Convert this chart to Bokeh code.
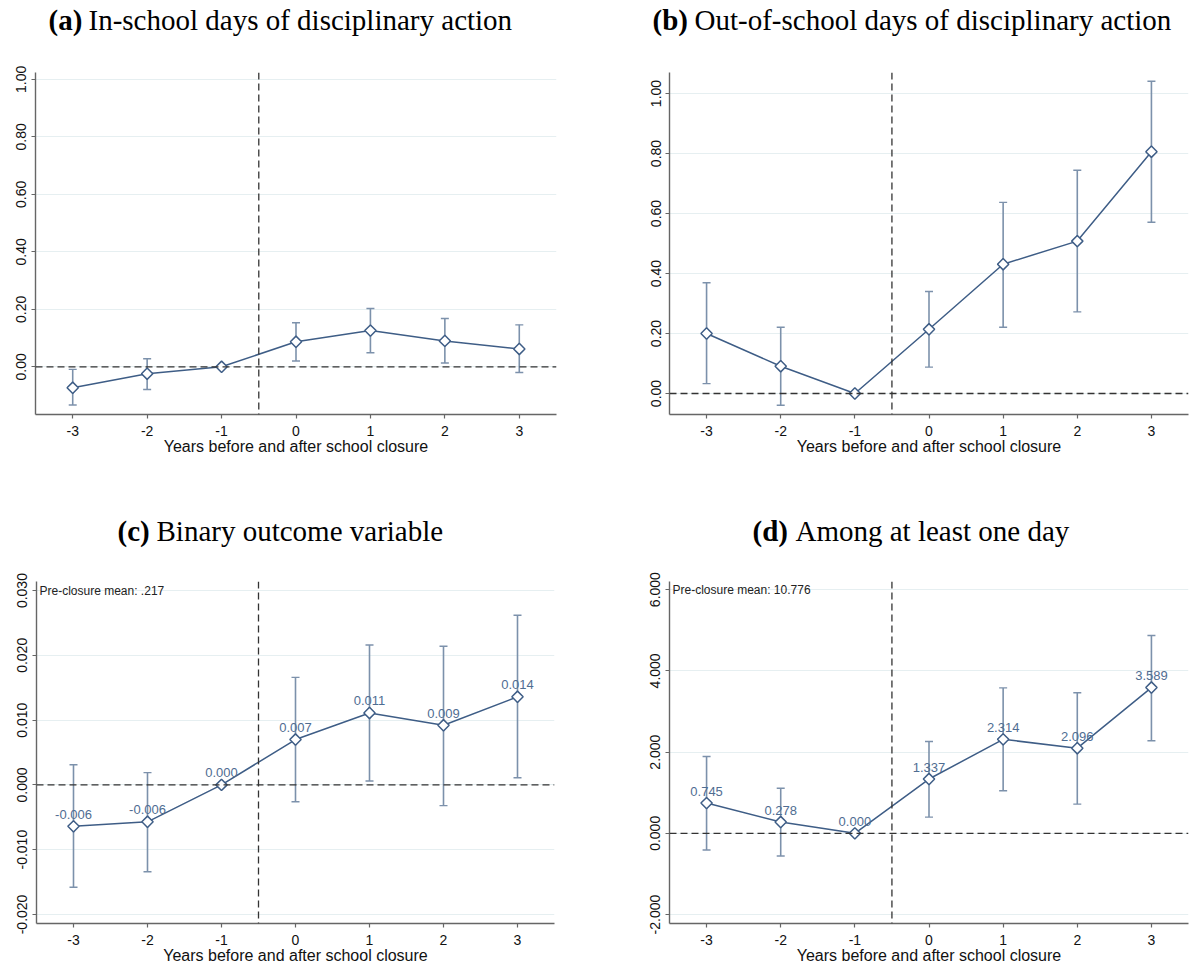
import math
from bokeh.plotting import figure
from bokeh.models import (Range1d, FixedTicker, NumeralTickFormatter, Span,
                          Whisker, TeeHead, ColumnDataSource, Label)
from bokeh.layouts import column, row
from bokeh.embed import file_html
from bokeh.resources import INLINE
from bokeh.core.properties import value

# ---------------- data ----------------
years = [-3, -2, -1, 0, 1, 2, 3]

a_est = [-0.073, -0.024, 0.0, 0.087, 0.126, 0.090, 0.062]
a_lo = [-0.133, -0.079, 0.0, 0.020, 0.049, 0.013, -0.020]
a_hi = [-0.009, 0.028, 0.0, 0.153, 0.203, 0.168, 0.146]

b_est = [0.200, 0.091, 0.0, 0.214, 0.431, 0.508, 0.806]
b_lo = [0.033, -0.039, 0.0, 0.088, 0.221, 0.272, 0.571]
b_hi = [0.369, 0.221, 0.0, 0.340, 0.637, 0.744, 1.041]

c_est = [-0.0064, -0.0057, 0.0, 0.0070, 0.0111, 0.0092, 0.0136]
c_lo = [-0.0158, -0.0134, 0.0, -0.0026, 0.0006, -0.0032, 0.0011]
c_hi = [0.0031, 0.0019, 0.0, 0.0166, 0.0216, 0.0214, 0.0262]
c_labels = ["-0.006", "-0.006", "0.000", "0.007", "0.011", "0.009", "0.014"]

d_est = [0.745, 0.278, 0.0, 1.337, 2.314, 2.096, 3.589]
d_lo = [-0.41, -0.56, 0.0, 0.40, 1.05, 0.72, 2.28]
d_hi = [1.89, 1.11, 0.0, 2.26, 3.58, 3.46, 4.87]
d_labels = ["0.745", "0.278", "0.000", "1.337", "2.314", "2.096", "3.589"]

a_ticks = [0.0, 0.2, 0.4, 0.6, 0.8, 1.0]
b_ticks = [0.0, 0.2, 0.4, 0.6, 0.8, 1.0]
c_ticks = [-0.02, -0.01, 0.0, 0.01, 0.02, 0.03]
d_ticks = [-2.0, 0.0, 2.0, 4.0, 6.0]

x_title = "Years before and after school closure"
title_letters = ["(a)", "(b)", "(c)", "(d)"]
title_texts = ["In-school days of disciplinary action",
               "Out-of-school days of disciplinary action",
               "Binary outcome variable",
               "Among at least one day"]
pre_means = [None, None, "Pre-closure mean: .217", "Pre-closure mean: 10.776"]

# ---------------- style ----------------
LINE = "#3E5D86"
CI = "#7C91AB"
LBL = "#4F6D92"
SANS = "Liberation Sans"
SERIF = "Liberation Serif"
TOTAL_W = 1190


def title_row(letters, texts, bold_x, text_x, ty, h):
    p = figure(width=TOTAL_W, height=h, x_range=Range1d(0, TOTAL_W),
               y_range=Range1d(h, 0), x_axis_type=None, y_axis_type=None,
               min_border=0, output_backend="svg", toolbar_location=None)
    p.outline_line_color = None
    p.grid.visible = False
    s1 = ColumnDataSource(dict(x=bold_x, y=[ty] * len(bold_x), t=letters))
    s2 = ColumnDataSource(dict(x=text_x, y=[ty] * len(text_x), t=texts))
    p.text("x", "y", text="t", source=s1, text_font=value(SERIF),
           text_font_style="bold", text_font_size="29px",
           text_baseline="middle", text_align="left", text_color="black")
    p.text("x", "y", text="t", source=s2, text_font=value(SERIF),
           text_font_size="29px", text_baseline="middle", text_align="left",
           text_color="black")
    return p


def panel(est, lo, hi, ticks, fmt, yr, geo, pre=None, labels=None):
    W, H, L, R, T, B = geo
    p = figure(width=W, height=H, min_border_left=L, min_border_right=R,
               min_border_top=T, min_border_bottom=B,
               x_range=Range1d(-3.5, 3.5), y_range=Range1d(*yr),
               output_backend="svg", toolbar_location=None,
               background_fill_color="white", border_fill_color="white")
    p.outline_line_color = None
    p.xgrid.visible = False
    p.ygrid.grid_line_color = "#E6EFF1"
    p.ygrid.grid_line_width = 1
    p.ygrid.ticker = FixedTicker(ticks=ticks)

    p.xaxis.ticker = FixedTicker(ticks=years)
    p.xaxis.formatter = NumeralTickFormatter(format="0")
    p.yaxis.ticker = FixedTicker(ticks=ticks)
    p.yaxis.formatter = NumeralTickFormatter(format=fmt)
    p.yaxis.major_label_orientation = "vertical"
    for ax in (p.xaxis, p.yaxis):
        ax.axis_line_color = "#666666"
        ax.axis_line_width = 1.4
        ax.major_tick_line_color = "#666666"
        ax.major_tick_line_width = 1.2
        ax.major_tick_out = 4
        ax.major_tick_in = 0
        ax.minor_tick_line_color = None
        ax.major_label_text_font = SANS
        ax.major_label_text_font_size = "14px"
        ax.major_label_text_color = "#111111"
    p.xaxis.major_label_standoff = 7
    p.yaxis.major_label_standoff = 5
    p.xaxis.axis_label = x_title
    p.xaxis.axis_label_text_font = SANS
    p.xaxis.axis_label_text_font_style = "normal"
    p.xaxis.axis_label_text_font_size = "16px"
    p.xaxis.axis_label_text_color = "#111111"
    p.xaxis.axis_label_standoff = -1

    p.add_layout(Span(location=-0.5, dimension="height", line_color="#333333",
                      line_width=1.3, line_dash="7 4"))
    p.add_layout(Span(location=0, dimension="width", line_color="#333333",
                      line_width=1.3, line_dash="7 4"))

    src = ColumnDataSource(dict(x=years, y=est, lo=lo, hi=hi))
    p.add_layout(Whisker(base="x", upper="hi", lower="lo", source=src,
                         line_color=CI, line_width=1.6,
                         upper_head=TeeHead(size=8, line_color=CI, line_width=1.4),
                         lower_head=TeeHead(size=8, line_color=CI, line_width=1.4)))
    p.line("x", "y", source=src, line_color=LINE, line_width=1.5)
    p.scatter("x", "y", source=src, marker="square", angle=math.pi / 4, size=8,
              fill_color="white", line_color=LINE, line_width=1.5)

    if labels is not None:
        tsrc = ColumnDataSource(dict(x=years, y=est, t=labels))
        p.text("x", "y", text="t", source=tsrc, y_offset=-12,
               text_align="center", text_baseline="middle",
               text_font=value(SANS), text_font_size="13px", text_color=LBL)
    if pre is not None:
        p.add_layout(Label(x=-3.5, y=ticks[-1], text=pre, x_offset=3,
                           text_baseline="middle", text_font=SANS,
                           text_font_size="12px", text_color="#222222"))
    return p


t1 = title_row(title_letters[:2], title_texts[:2], [48, 652], [88, 694], 19, 48)
pa = panel(a_est, a_lo, a_hi, a_ticks, "0.00", (-0.166, 1.024),
           (608, 460, 35, 52, 24, 91))
pb = panel(b_est, b_lo, b_hi, b_ticks, "0.00", (-0.07, 1.07),
           (582, 460, 61, 2, 21, 94))
t2 = title_row(title_letters[2:], title_texts[2:], [117, 752], [156, 795], 22, 40)
pc = panel(c_est, c_lo, c_hi, c_ticks, "0.000", (-0.0214, 0.0314),
           (608, 420, 36, 54, 33, 45), pre=pre_means[2], labels=c_labels)
pd_ = panel(d_est, d_lo, d_hi, d_ticks, "0.000", (-2.22, 6.2),
            (582, 420, 61, 2, 32, 44), pre=pre_means[3], labels=d_labels)

layout = column(t1, row(pa, pb), t2, row(pc, pd_))
open("out.html", "w").write(file_html(layout, INLINE))
